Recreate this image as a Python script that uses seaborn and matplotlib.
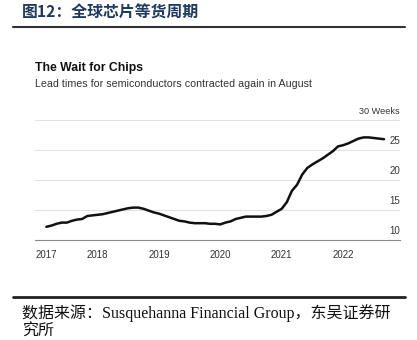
import matplotlib
matplotlib.use("Agg")
import matplotlib.pyplot as plt
from matplotlib.lines import Line2D
import seaborn as sns
import pandas as pd

# Monthly lead times (weeks), March 2017 onward
months = pd.date_range("2017-03-01", periods=67, freq="MS")
lead_weeks = [
    12.2, 12.4, 12.7, 12.9, 12.9, 13.2, 13.4, 13.5, 14.0, 14.1,
    14.2, 14.3, 14.5, 14.7, 14.9, 15.1, 15.3, 15.4, 15.4, 15.2,
    14.9, 14.6, 14.4, 14.1, 13.8, 13.5, 13.2, 13.1, 12.9, 12.8,
    12.8, 12.8, 12.7, 12.7, 12.6, 12.9, 13.1, 13.5, 13.7, 13.9,
    13.9, 13.9, 13.9, 14.0, 14.2, 14.7, 15.2, 16.3, 18.2, 19.2,
    20.9, 22.0, 22.6, 23.1, 23.6, 24.2, 24.8, 25.6, 25.8, 26.1,
    26.5, 26.9, 27.1, 27.1, 27.0, 26.9, 26.8,
]
year_ticks = [2017 + 2 / 12, 2018, 2019, 2020, 2021, 2022]
year_labels = ["2017", "2018", "2019", "2020", "2021", "2022"]
y_ticks = [10, 15, 20, 25, 30]
y_labels = ["10", "15", "20", "25", "30 Weeks"]

sns.set_style("white")
plt.rcParams["font.family"] = ["Liberation Sans", "DejaVu Sans"]

df = pd.DataFrame({
    "t": months.year + (months.month - 1) / 12,
    "weeks": lead_weeks,
})

W, H = 417, 340
fig = plt.figure(figsize=(W / 100, H / 100), dpi=100)
ax = fig.add_axes([35 / W, 1 - 240 / H, 365 / W, 120 / H])

sns.lineplot(data=df, x="t", y="weeks", ax=ax, color="#111111", linewidth=1.8)

ax.set_xlim(2016.982, 2022.927)
ax.set_ylim(10, 30)
for s in ["top", "right", "left"]:
    ax.spines[s].set_visible(False)
ax.spines["bottom"].set_color("#8a8a8a")
ax.spines["bottom"].set_linewidth(0.8)

for v in y_ticks[1:]:
    ax.axhline(v, color="#e2e2e2", linewidth=0.8, zorder=0)

ax.set_yticks([])
ax.set_xticks(year_ticks)
ax.set_xticklabels(year_labels, fontsize=7, color="#333333")
ax.tick_params(axis="x", length=3, width=0.7, color="#8a8a8a", pad=4)
ax.set_xlabel("")
ax.set_ylabel("")

ytr = ax.get_yaxis_transform()
for v, lab in zip(y_ticks, y_labels):
    ax.text(1.0, v + 0.6, lab, transform=ytr, ha="right", va="bottom",
            fontsize=7 if lab.isdigit() else 6.6, color="#333333")

fig.text(35 / W, 1 - 68 / H, "The Wait for Chips", fontsize=8.8,
         fontweight="bold", color="#111111", va="center", ha="left")
fig.text(35 / W, 1 - 84 / H,
         "Lead times for semiconductors contracted again in August",
         fontsize=7.7, color="#333333", va="center", ha="left")

fig.text(22 / W, 1 - 13 / H, "图12：全球芯片等货周期", fontsize=11.4,
         fontweight="bold", color="#1f3a5f", va="center", ha="left",
         family=["Noto Sans CJK SC", "DejaVu Sans"])

fig.add_artist(Line2D([13 / W, 405 / W], [1 - 27 / H] * 2,
                      transform=fig.transFigure, color="#333333", linewidth=1.5))
fig.add_artist(Line2D([13 / W, 405 / W], [1 - 297 / H] * 2,
                      transform=fig.transFigure, color="#222222", linewidth=2))

src_font = ["Liberation Serif", "Noto Sans CJK SC"]
fig.text(22 / W, 1 - 313 / H,
         "数据来源：Susquehanna Financial Group，东吴证券研",
         fontsize=11.5, color="#111111", va="center", ha="left", family=src_font)
fig.text(22 / W, 1 - 332 / H, "究所", fontsize=11.5, color="#111111",
         va="center", ha="left", family=src_font)

fig.savefig("out.png", dpi=100, facecolor="white")
